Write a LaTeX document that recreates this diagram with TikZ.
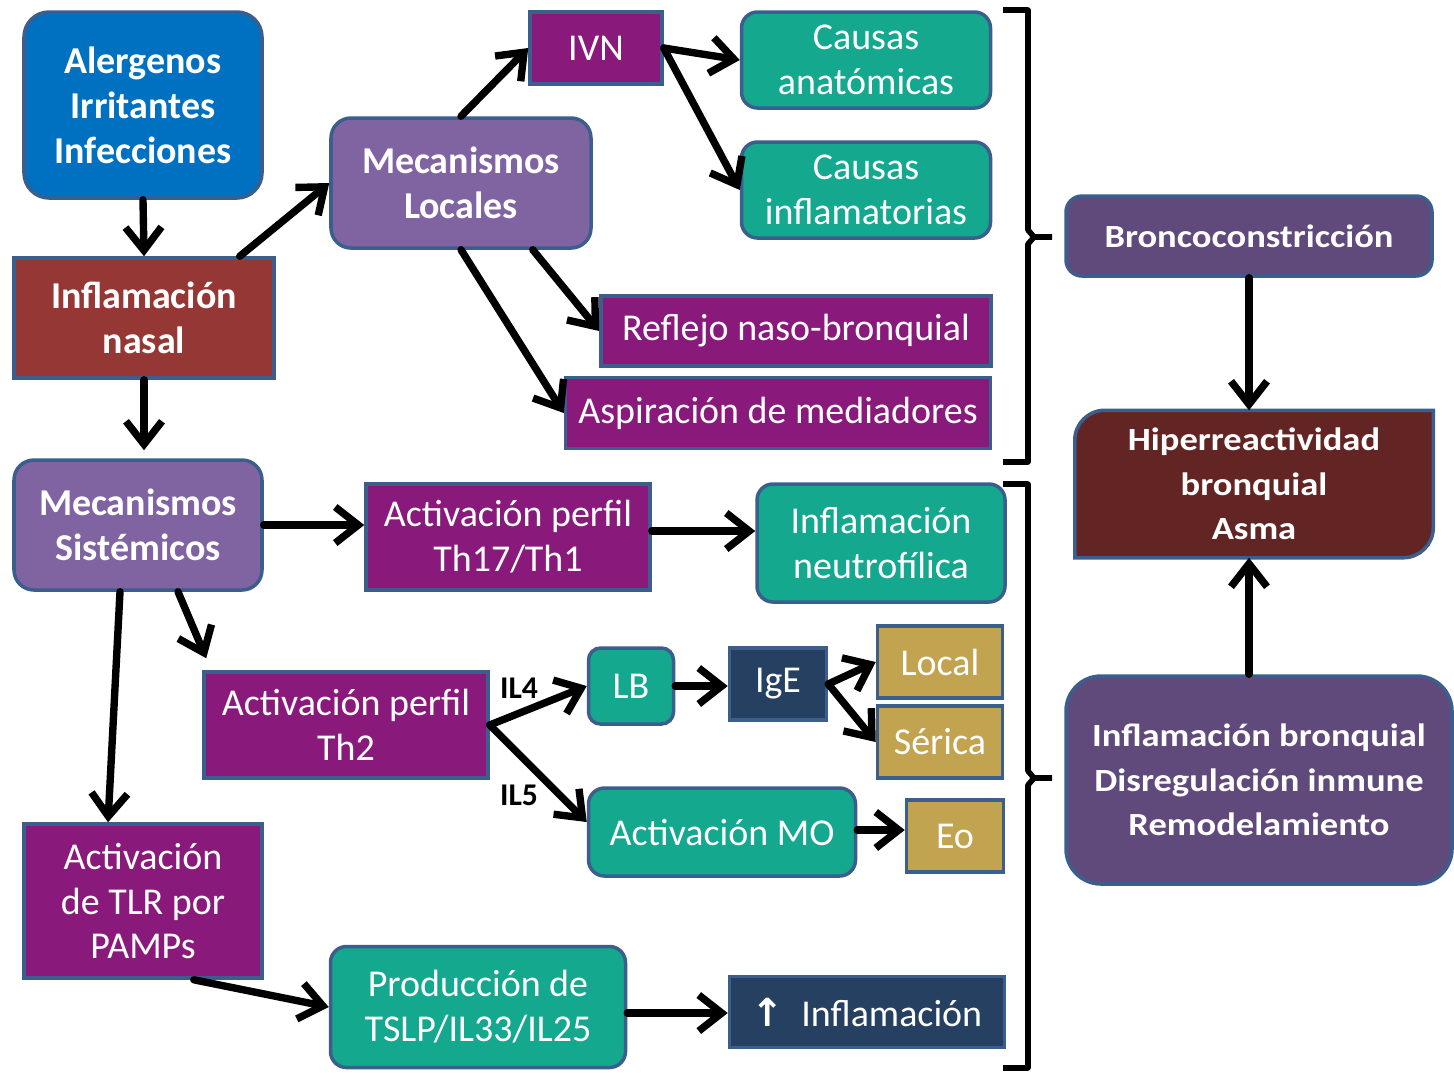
\documentclass[tikz,border=0pt]{standalone}
\usepackage{fontspec}
\setmainfont{Carlito}
\newfontfamily\widefont[FakeStretch=1.13]{Carlito}
\newfontfamily\symfont{DejaVu Sans}
\usetikzlibrary{arrows.meta, positioning, backgrounds}

\definecolor{cblue}{HTML}{0070C0}
\definecolor{cnasal}{HTML}{953735}
\definecolor{cmech}{HTML}{8064A2}
\definecolor{cmechdark}{HTML}{604A7B}
\definecolor{cmag}{HTML}{891A7C}
\definecolor{cteal}{HTML}{14A98F}
\definecolor{cgold}{HTML}{C2A34F}
\definecolor{cnavy}{HTML}{254061}
\definecolor{casma}{HTML}{632523}
\definecolor{cedge}{HTML}{3B5E8C}

\begin{document}
\begin{tikzpicture}[
    x=0.1mm, y=-0.1mm,
    box/.style={draw=cedge, line width=1pt, text=white, align=center, inner sep=0pt,
        font=\fontsize{10.8}{12.8}\selectfont},
    bbox/.style={box, font=\fontsize{10.8}{12.8}\selectfont\bfseries},
    rbox/.style={rounded corners=1.6mm},
    magbox/.style={box, fill=cmag},
    tealbox/.style={box, rbox, fill=cteal},
    goldbox/.style={box, fill=cgold},
    navybox/.style={box, fill=cnavy},
    rightbox/.style={box, font=\widefont\bfseries\fontsize{9.2}{12.6}\selectfont},
    arr/.style={line width=2.1pt, line cap=round, line join=round,
        -{Straight Barb[length=2.3mm, width=3.6mm]}},
    bracket/.style={line width=1.6pt, line join=round},
    lbl/.style={font=\fontsize{9}{10}\selectfont\bfseries},
]
    \useasboundingbox (0,0) rectangle (1454,1072);

    % Left column
    \node[bbox, rounded corners=2.5mm, fill=cblue, minimum width=2.38cm, minimum height=1.86cm]
        (aler) at (143,105) {Alergenos\\Irritantes\\Infecciones};
    \node[bbox, fill=cnasal, minimum width=2.6cm, minimum height=1.2cm]
        (nasal) at (144,318) {Inflamación\\nasal};
    \node[bbox, rounded corners=2mm, fill=cmech, minimum width=2.48cm, minimum height=1.3cm]
        (msis) at (138,525) {Mecanismos\\Sistémicos};
    \node[magbox, minimum width=2.38cm, minimum height=1.54cm]
        (tlr) at (143,901) {Activación\\de TLR por\\PAMPs};

    % Local mechanisms
    \node[bbox, rounded corners=2mm, fill=cmech, minimum width=2.6cm, minimum height=1.3cm]
        (mloc) at (461,183) {Mecanismos\\Locales};
    \node[magbox, minimum width=1.32cm, minimum height=0.72cm] (ivn) at (596,48) {IVN};
    \node[tealbox, minimum width=2.49cm, minimum height=0.96cm] (canat) at (866,60) {Causas\\anatómicas};
    \node[tealbox, minimum width=2.49cm, minimum height=0.96cm] (cinfl) at (866,190) {Causas\\inflamatorias};
    \node[magbox, minimum width=3.9cm, minimum height=0.7cm] (refl) at (796,331) {Reflejo naso-bronquial};
    \node[magbox, minimum width=4.25cm, minimum height=0.71cm] (aspir) at (778,413) {Aspiración de mediadores};

    % Systemic mechanisms
    \node[magbox, minimum width=2.84cm, minimum height=1.06cm] (th17) at (508,537) {Activación perfil\\Th17/Th1};
    \node[tealbox, minimum width=2.48cm, minimum height=1.18cm] (neutro) at (881,543) {Inflamación\\neutrofílica};
    \node[magbox, minimum width=2.84cm, minimum height=1.06cm] (th2) at (346,725) {Activación perfil\\Th2};
    \node[tealbox, rounded corners=1.2mm, minimum width=0.85cm, minimum height=0.76cm] (lb) at (631,686) {LB};
    \node[navybox, minimum width=0.97cm, minimum height=0.72cm] (ige) at (778,684) {IgE};
    \node[goldbox, minimum width=1.25cm, minimum height=0.72cm] (local) at (940,662) {Local};
    \node[goldbox, minimum width=1.25cm, minimum height=0.72cm] (serica) at (940,742) {Sérica};
    \node[tealbox, minimum width=2.67cm, minimum height=0.88cm] (mo) at (722,832) {Activación MO};
    \node[goldbox, minimum width=0.97cm, minimum height=0.72cm] (eo) at (955,836) {Eo};
    \node[tealbox, minimum width=2.95cm, minimum height=1.21cm] (tslp) at (478,1007) {Producción de\\TSLP/IL33/IL25};
    \node[navybox, minimum width=2.75cm, minimum height=0.71cm] (infup) at (867,1012)
        {{\symfont\bfseries\fontsize{11}{12}\selectfont ↑}\ \ Inflamación};
    \node[lbl] (il4) at (519,688) {IL4};
    \node[lbl] (il5) at (519,795) {IL5};

    % Right column
    \node[rightbox, rounded corners=1.6mm, fill=cmechdark, minimum width=3.66cm, minimum height=0.8cm]
        (bronco) at (1249,236) {Broncoconstricción};
    \node[rightbox, draw=none, minimum width=3.55cm, minimum height=1.44cm]
        (hiper) at (1254,484) {Hiperreactividad\\bronquial\\Asma};
    \node[rightbox, rounded corners=3.5mm, fill=cmechdark, minimum width=3.86cm, minimum height=2.08cm]
        (infbr) at (1259,780) {Inflamación bronquial\\Disregulación inmune\\Remodelamiento};
    \begin{scope}[on background layer]
        \draw[draw=cedge, line width=1pt, fill=casma]
            (hiper.south west) [rounded corners=3mm] -- (hiper.north west) [sharp corners]
            -- (hiper.north east) [rounded corners=3mm] -- (hiper.south east) [sharp corners] -- cycle;
    \end{scope}

    % Brackets
    \draw[bracket] (1003,10) -- (1028,10) -- (1028,230) -- (1034,237) -- (1052,237)
        (1034,237) -- (1028,244) -- (1028,462) -- (1003,462);
    \draw[bracket] (1003,484) -- (1028,484) -- (1028,771) -- (1034,778) -- (1052,778)
        (1034,778) -- (1028,785) -- (1028,1068) -- (1003,1068);

    % Arrows
    \draw[arr] (aler.south) -- (nasal.north);
    \draw[arr] ([xshift=-3.6mm]nasal.north east) -- (mloc.west);
    \draw[arr] (nasal.south) -- ([yshift=0.8mm]nasal.south |- msis.north);
    \draw[arr] (mloc.north) -- (ivn.west);
    \draw[arr] (ivn.east) -- (canat.west);
    \draw[arr] (ivn.east) -- (cinfl.west);
    \draw[arr] ([xshift=-6mm]mloc.south east) -- (refl.west);
    \draw[arr] (mloc.south) -- (aspir.west);
    \draw[arr] (bronco.south) -- (bronco.south |- hiper.north);
    \draw[arr] (bronco.south |- infbr.north) -- (bronco.south |- hiper.south);
    \draw[arr] (msis.east) -- (msis.east -| th17.west);
    \draw[arr] ([yshift=0.6mm]th17.east) -- ([yshift=0.6mm]th17.east -| neutro.west);
    \draw[arr] ([xshift=4mm]msis.south) -- ([xshift=0.4mm, yshift=1.2mm]th2.north west);
    \draw[arr] ([xshift=-1.8mm]msis.south) -- ([xshift=-3.5mm]tlr.north);
    \draw[arr] (th2.east) -- (lb.west);
    \draw[arr] (th2.east) -- ([yshift=1mm]mo.west);
    \draw[arr] (lb.east) -- (lb.east -| ige.west);
    \draw[arr] (ige.east) -- (local.west);
    \draw[arr] (ige.east) -- (serica.west);
    \draw[arr] ([yshift=0.2mm]mo.east) -- ([yshift=0.2mm]mo.east -| eo.west);
    \draw[arr] ([xshift=-7mm]tlr.south east) -- (tslp.west);
    \draw[arr] ([yshift=-0.6mm]tslp.east) -- ([yshift=-0.6mm]tslp.east -| infup.west);
\end{tikzpicture}
\end{document}
